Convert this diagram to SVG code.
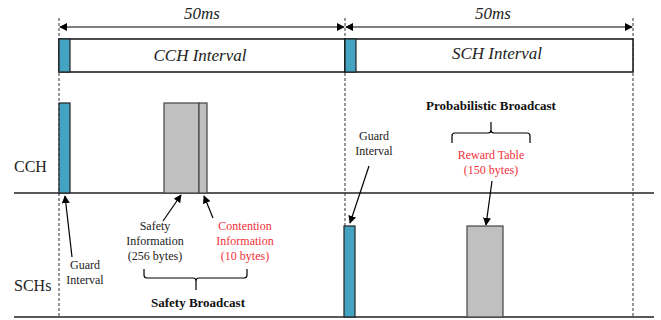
<svg xmlns="http://www.w3.org/2000/svg" width="661" height="320" viewBox="0 0 661 320">
<defs>
<marker id="ah" viewBox="0 0 10 10" refX="9" refY="5" markerWidth="8" markerHeight="8" markerUnits="userSpaceOnUse" orient="auto-start-reverse">
<path d="M0,0 L10,5 L0,10 z" fill="#000"/>
</marker>
</defs>
<style>
.t{font-family:"Liberation Serif","Times New Roman",serif;fill:#222;}
.it{font-style:italic;font-size:17px;}
.lab{font-size:16px;}
.sm{font-size:12px;}
.red{fill:#f0303a;}
.b{font-weight:bold;font-size:13px;fill:#111;}
.dash{stroke:#333;stroke-width:1;stroke-dasharray:3,2;fill:none;}
.base{stroke:#222;stroke-width:1.5;fill:none;}
.blue{fill:#45a3c2;stroke:#222;stroke-width:1.2;}
.gray{fill:#c0c0c0;stroke:#444;stroke-width:1.2;}
.ln{stroke:#000;stroke-width:1.2;fill:none;}
.br{stroke:#000;stroke-width:1.2;fill:none;}
</style>
<rect width="661" height="320" fill="#fff"/>
<g id="guides">
<line class="dash" x1="59" y1="18" x2="59" y2="317"/>
<line class="dash" x1="345" y1="18" x2="345" y2="317"/>
<line class="dash" x1="633" y1="18" x2="633" y2="317"/>
</g>
<g id="baselines">
<line class="base" x1="14" y1="193" x2="654" y2="193"/>
<line class="base" x1="14" y1="317" x2="654" y2="317"/>
</g>
<g id="dim-cch">
<line class="ln" x1="60" y1="27" x2="344" y2="27" marker-start="url(#ah)" marker-end="url(#ah)"/>
<text class="t it" x="202" y="19" text-anchor="middle">50ms</text>
</g>
<g id="dim-sch">
<line class="ln" x1="346" y1="27" x2="632" y2="27" marker-start="url(#ah)" marker-end="url(#ah)"/>
<text class="t it" x="493" y="19" text-anchor="middle">50ms</text>
</g>
<g id="cch-interval">
<rect x="59" y="39" width="286" height="33" fill="#fff" stroke="#111" stroke-width="1.5"/>
<rect class="blue" x="59" y="39" width="11" height="33"/>
<text class="t it" x="200" y="61" text-anchor="middle">CCH Interval</text>
</g>
<g id="sch-interval">
<rect x="345" y="39" width="288" height="33" fill="#fff" stroke="#111" stroke-width="1.5"/>
<rect class="blue" x="345" y="39" width="11" height="33"/>
<text class="t it" x="497" y="59" text-anchor="middle">SCH Interval</text>
</g>
<g id="cch-label"><text class="t lab" x="14" y="172">CCH</text></g>
<g id="sch-label"><text class="t lab" x="14" y="291">SCHs</text></g>
<g id="cch-guard"><rect class="blue" x="59" y="103" width="11" height="90"/></g>
<g id="cch-safety"><rect class="gray" x="164" y="103" width="35" height="90"/></g>
<g id="cch-contention"><rect class="gray" x="199" y="103" width="8" height="90"/></g>
<g id="sch-guard"><rect class="blue" x="344" y="226" width="11" height="91"/></g>
<g id="sch-reward"><rect class="gray" x="467" y="226" width="36" height="91"/></g>
<g id="label-guard1">
<text class="t sm" x="85" y="269" text-anchor="middle">Guard</text>
<text class="t sm" x="85" y="284" text-anchor="middle">Interval</text>
</g>
<g id="label-safety">
<text class="t sm" x="155" y="230" text-anchor="middle">Safety</text>
<text class="t sm" x="155" y="245" text-anchor="middle">Information</text>
<text class="t sm" x="155" y="260" text-anchor="middle">(256 bytes)</text>
</g>
<g id="label-contention">
<text class="t sm red" x="245" y="230" text-anchor="middle">Contention</text>
<text class="t sm red" x="245" y="245" text-anchor="middle">Information</text>
<text class="t sm red" x="245" y="260" text-anchor="middle">(10 bytes)</text>
</g>
<g id="label-safety-broadcast">
<text class="t b" x="198" y="307" text-anchor="middle">Safety Broadcast</text>
</g>
<g id="label-prob-broadcast">
<text class="t b" x="491" y="110" text-anchor="middle">Probabilistic Broadcast</text>
</g>
<g id="label-guard2">
<text class="t sm" x="374" y="140" text-anchor="middle">Guard</text>
<text class="t sm" x="374" y="155" text-anchor="middle">Interval</text>
</g>
<g id="label-reward">
<text class="t sm red" x="491" y="159" text-anchor="middle">Reward Table</text>
<text class="t sm red" x="491" y="174" text-anchor="middle">(150 bytes)</text>
</g>
<g id="connectors">
<line class="ln" x1="72" y1="257" x2="65" y2="196" marker-end="url(#ah)"/>
<line class="ln" x1="163" y1="221" x2="181" y2="195" marker-end="url(#ah)"/>
<line class="ln" x1="213" y1="218" x2="204" y2="196" marker-end="url(#ah)"/>
<line class="ln" x1="369" y1="166" x2="350" y2="223" marker-end="url(#ah)"/>
<line class="ln" x1="492" y1="181" x2="486" y2="225" marker-end="url(#ah)"/>
<path class="br" d="M144,269 V275 Q144,278 147,278 H193 Q196,278 196,281 V290 M196,281 Q196,278 199,278 H244 Q247,278 247,275 V269"/>
<path class="br" d="M452,143 V136 Q452,133 455,133 H488 Q491,133 491,130 V122 M491,130 Q491,133 494,133 H527 Q530,133 530,136 V143"/>
</g>
</svg>
